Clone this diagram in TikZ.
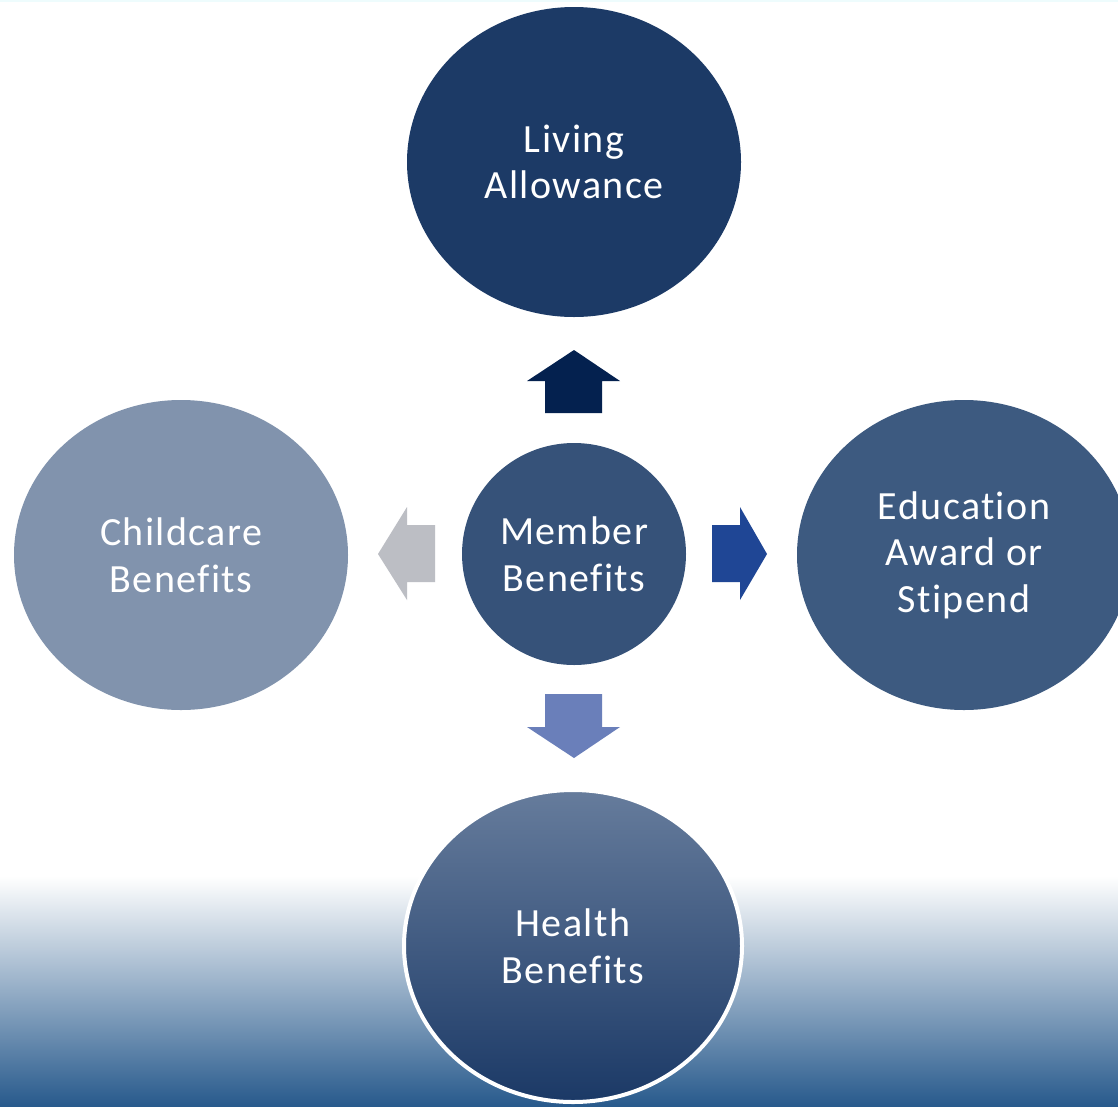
\documentclass[tikz,border=0pt]{standalone}
\usepackage{fontspec}
\setmainfont{Carlito}[Ligatures=NoCommon, LetterSpace=3.5]
\usetikzlibrary{shapes.geometric}
\definecolor{livingblue}{HTML}{1C3A66}
\definecolor{childgrey}{HTML}{8193AD}
\definecolor{edublue}{HTML}{3D5A80}
\definecolor{memberblue}{HTML}{365279}
\definecolor{healthtop}{HTML}{667C9C}
\definecolor{healthbot}{HTML}{1B3966}
\definecolor{groundblue}{HTML}{285A8C}
\definecolor{uparr}{HTML}{04214F}
\definecolor{rightarr}{HTML}{1F4695}
\definecolor{leftarr}{HTML}{BCBEC4}
\definecolor{downarr}{HTML}{6A7FBA}
\definecolor{topline}{HTML}{EEFCFD}
\begin{document}
\begin{tikzpicture}[x=1pt, y=-1pt,
  bubble/.style={ellipse, inner sep=0pt, minimum width=334pt,
    minimum height=310pt, text=white, align=center,
    font=\fontsize{40}{46.5}\selectfont}]
  \useasboundingbox (0,0) rectangle (1118,1106);
  \clip (0,0) rectangle (1118,1106);
  % Paint the page and the blue ground at the bottom.
  \fill[white] (0,0) rectangle (1118,1106);
  \fill[topline] (0,0) rectangle (1118,2);
  \shade[top color=white, bottom color=groundblue] (0,876) rectangle (1118,1106);
  % Draw the benefit bubbles.
  \node[bubble, fill=livingblue] (living) at (574,162) {Living\\Allowance};
  \node[bubble, fill=childgrey] (childcare) at (181,555) {Childcare\\Benefits};
  \node[bubble, fill=edublue] (education) at (964,555) {Education\\Award or\\Stipend};
  \node[bubble, minimum width=338pt, minimum height=312pt, draw=white,
    line width=4pt, top color=healthtop, bottom color=healthbot]
    (health) at (573,946) {Health\\Benefits};
  \node[bubble, fill=memberblue, minimum width=224pt, minimum height=222pt]
    (member) at (574,554) {Member\\Benefits};
  % Draw the block arrows round the centre.
  \fill[uparr] (574,350) -- (620,381) -- (602,381) -- (602,413) -- (545,413)
    -- (545,381) -- (527,381) -- cycle;
  \fill[downarr] (574,758) -- (620,727) -- (602,727) -- (602,694) -- (545,694)
    -- (545,727) -- (527,727) -- cycle;
  \fill[leftarr] (378,554) -- (407,507) -- (407,525) -- (435,525) -- (435,582)
    -- (407,582) -- (407,600) -- cycle;
  \fill[rightarr] (767,554) -- (740,507) -- (740,525) -- (712,525) -- (712,582)
    -- (740,582) -- (740,600) -- cycle;
\end{tikzpicture}
\end{document}
